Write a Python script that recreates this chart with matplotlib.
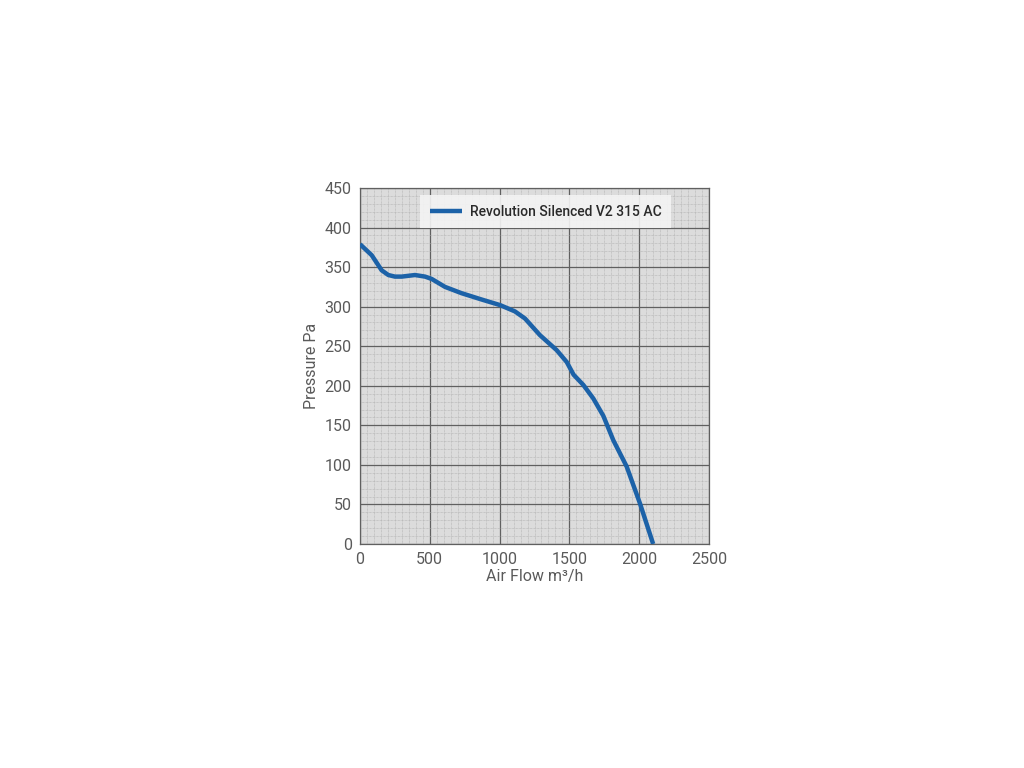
import matplotlib.pyplot as plt
from matplotlib.ticker import MultipleLocator

# fan curve
air_flow = [0, 84, 155, 203, 250, 299, 394, 466, 514, 609, 728, 872, 1003,
            1110, 1182, 1289, 1409, 1481, 1530, 1600, 1671, 1743, 1815,
            1910, 2006, 2100]
pressure = [379, 365, 346, 340, 338, 338, 340, 338, 335, 325, 317, 309, 302,
            294, 285, 264, 245, 230, 214, 201, 184, 162, 131,
            98, 51, 0]
series_label = "Revolution Silenced V2 315 AC"

x_ticks = [0, 500, 1000, 1500, 2000, 2500]
y_ticks = [0, 50, 100, 150, 200, 250, 300, 350, 400, 450]

plt.rcParams["font.family"] = ["Roboto", "DejaVu Sans"]

fig = plt.figure(figsize=(10.24, 7.68), dpi=100)
ax = fig.add_axes([360 / 1024, 1 - 544 / 768, 349 / 1024, 356 / 768])
ax.set_facecolor("#dcdcdc")

ax.plot(air_flow, pressure, color="#1c62a8", linewidth=3.2,
        solid_capstyle="butt", solid_joinstyle="round", label=series_label, zorder=3)

ax.set_xlim(0, 2500)
ax.set_ylim(0, 450)
ax.set_xticks(x_ticks)
ax.set_yticks(y_ticks)
ax.xaxis.set_minor_locator(MultipleLocator(50))
ax.yaxis.set_minor_locator(MultipleLocator(10))

ax.grid(which="major", color="#606060", linewidth=0.9, zorder=1)
ax.grid(which="minor", color="#b0b0b0", linewidth=0.5, linestyle=(0, (1, 1)), zorder=0)
ax.set_axisbelow(True)

for s in ax.spines.values():
    s.set_color("#606060")
    s.set_linewidth(0.9)

ax.tick_params(which="both", length=0, colors="#5a5a5a", labelsize=11.5, pad=6)
ax.set_xlabel("Air Flow m³/h", color="#5a5a5a", fontsize=11.5, labelpad=1)
ax.set_ylabel("Pressure Pa", color="#5a5a5a", fontsize=11.5, labelpad=4)

leg = ax.legend(loc="upper left", frameon=True, fancybox=False,
                prop={"family": ["Roboto", "DejaVu Sans"], "weight": "medium", "size": 10},
                handlelength=2.3, handletextpad=0.6,
                borderpad=0.7, borderaxespad=0,
                bbox_to_anchor=(60 / 349, 1 - 7 / 356))
leg.get_frame().set_facecolor("#f4f4f4")
leg.get_frame().set_edgecolor("none")
leg.get_frame().set_alpha(0.9)
for t in leg.get_texts():
    t.set_color("#2a2a2a")

fig.savefig("out.png", dpi=100)
